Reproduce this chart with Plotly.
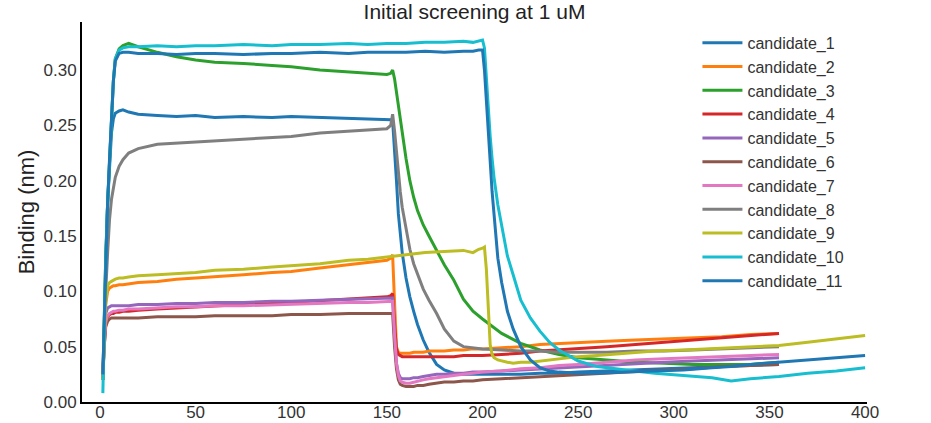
import plotly.graph_objects as go

# ---------------- data ----------------
names = ["candidate_1", "candidate_2", "candidate_3", "candidate_4", "candidate_5",
         "candidate_6", "candidate_7", "candidate_8", "candidate_9", "candidate_10",
         "candidate_11"]
colors = ["#1f77b4", "#ff7f0e", "#2ca02c", "#d62728", "#9467bd", "#8c564b",
          "#e377c2", "#7f7f7f", "#bcbd22", "#17becf", "#1f77b4"]

# group A: association 0-153 s, dissociation to 355 s (candidates 1-8)
time_a = [1.5, 2, 3, 4, 5, 6, 7, 8, 10, 12, 15, 20, 30, 40, 50, 60, 75, 90, 100, 115,
          130, 140, 150, 152, 153, 154, 155, 156, 157, 158, 160, 162, 164, 166, 169,
          172, 176, 180, 185, 190, 195, 200, 210, 220, 230, 240, 250, 265, 280, 295,
          310, 325, 340, 355]

cand_1 = [0.022, 0.06, 0.13, 0.18, 0.215, 0.243, 0.256, 0.261, 0.263, 0.264, 0.262,
          0.260, 0.259, 0.258, 0.259, 0.257, 0.258, 0.257, 0.258, 0.257, 0.256, 0.256,
          0.255, 0.255, 0.254, 0.23, 0.20, 0.17, 0.15, 0.135, 0.112, 0.095, 0.082,
          0.07, 0.056, 0.045, 0.034, 0.029, 0.026, 0.025, 0.025, 0.025, 0.025, 0.025,
          0.026, 0.026, 0.027, 0.028, 0.029, 0.030, 0.031, 0.032, 0.033, 0.034]
cand_2 = [0.02, 0.05, 0.088, 0.100, 0.103, 0.104, 0.105, 0.105, 0.106, 0.106, 0.107,
          0.108, 0.109, 0.111, 0.112, 0.113, 0.115, 0.117, 0.118, 0.121, 0.124, 0.126,
          0.128, 0.130, 0.133, 0.09, 0.05, 0.045, 0.044, 0.044, 0.044, 0.044, 0.045,
          0.045, 0.045, 0.046, 0.046, 0.046, 0.047, 0.047, 0.048, 0.048, 0.049, 0.050,
          0.052, 0.053, 0.054, 0.055, 0.056, 0.057, 0.058, 0.059, 0.061, 0.062]
cand_3 = [0.02, 0.06, 0.13, 0.18, 0.22, 0.26, 0.29, 0.31, 0.319, 0.322, 0.324, 0.321,
          0.316, 0.312, 0.309, 0.307, 0.306, 0.304, 0.303, 0.300, 0.298, 0.297, 0.296,
          0.297, 0.300, 0.292, 0.28, 0.266, 0.253, 0.241, 0.22, 0.20, 0.185, 0.173,
          0.16, 0.15, 0.137, 0.124, 0.11, 0.093, 0.082, 0.075, 0.062, 0.053, 0.047,
          0.043, 0.040, 0.038, 0.036, 0.035, 0.034, 0.034, 0.034, 0.036]
cand_4 = [0.02, 0.045, 0.07, 0.077, 0.079, 0.080, 0.080, 0.081, 0.081, 0.082, 0.082,
          0.083, 0.084, 0.085, 0.086, 0.087, 0.088, 0.089, 0.090, 0.092, 0.093, 0.094,
          0.095, 0.096, 0.098, 0.07, 0.048, 0.043, 0.042, 0.041, 0.041, 0.041, 0.041,
          0.041, 0.041, 0.041, 0.041, 0.041, 0.041, 0.042, 0.042, 0.042, 0.043, 0.044,
          0.046, 0.047, 0.048, 0.050, 0.052, 0.054, 0.056, 0.058, 0.060, 0.062]
cand_5 = [0.02, 0.05, 0.08, 0.085, 0.086, 0.087, 0.087, 0.087, 0.087, 0.087, 0.087,
          0.088, 0.088, 0.089, 0.089, 0.090, 0.090, 0.091, 0.091, 0.092, 0.093, 0.093,
          0.094, 0.094, 0.094, 0.06, 0.035, 0.026, 0.022, 0.021, 0.021, 0.021, 0.022,
          0.022, 0.023, 0.024, 0.025, 0.025, 0.026, 0.026, 0.027, 0.027, 0.028, 0.029,
          0.030, 0.031, 0.032, 0.033, 0.035, 0.036, 0.037, 0.038, 0.039, 0.040]
cand_6 = [0.02, 0.045, 0.068, 0.073, 0.075, 0.076, 0.076, 0.076, 0.076, 0.076, 0.076,
          0.076, 0.077, 0.077, 0.077, 0.078, 0.078, 0.078, 0.079, 0.079, 0.080, 0.080,
          0.080, 0.080, 0.080, 0.05, 0.03, 0.02, 0.016, 0.015, 0.014, 0.014, 0.014,
          0.015, 0.015, 0.016, 0.017, 0.018, 0.018, 0.019, 0.019, 0.020, 0.021, 0.022,
          0.023, 0.024, 0.025, 0.026, 0.028, 0.029, 0.030, 0.032, 0.033, 0.034]
cand_7 = [0.02, 0.05, 0.072, 0.078, 0.080, 0.081, 0.082, 0.082, 0.083, 0.083, 0.084,
          0.084, 0.085, 0.086, 0.086, 0.087, 0.087, 0.088, 0.088, 0.089, 0.090, 0.090,
          0.091, 0.091, 0.091, 0.06, 0.035, 0.024, 0.019, 0.018, 0.017, 0.017, 0.018,
          0.019, 0.020, 0.021, 0.022, 0.023, 0.024, 0.025, 0.026, 0.027, 0.028, 0.030,
          0.031, 0.033, 0.034, 0.036, 0.038, 0.039, 0.040, 0.041, 0.042, 0.043]
cand_8 = [0.02, 0.05, 0.10, 0.135, 0.165, 0.183, 0.195, 0.203, 0.213, 0.219, 0.225,
          0.229, 0.233, 0.234, 0.235, 0.236, 0.237, 0.239, 0.240, 0.243, 0.245, 0.246,
          0.247, 0.250, 0.260, 0.245, 0.225, 0.205, 0.19, 0.176, 0.155, 0.138, 0.125,
          0.115, 0.102, 0.092, 0.08, 0.066, 0.055, 0.050, 0.049, 0.048, 0.047, 0.046,
          0.046, 0.045, 0.045, 0.045, 0.046, 0.046, 0.047, 0.048, 0.049, 0.050]

# group B: association 0-200 s, dissociation to 400 s (candidates 9-11)
time_b = [1.5, 2, 3, 4, 5, 6, 7, 8, 10, 12, 15, 20, 30, 40, 50, 60, 75, 90, 100, 115,
          130, 140, 150, 160, 170, 180, 190, 195, 198, 200, 201, 202, 203, 204, 205,
          206, 208, 210, 213, 216, 220, 225, 230, 235, 240, 250, 260, 275, 290, 305,
          320, 330, 340, 355, 370, 385, 400]

cand_9 = [0.02, 0.05, 0.092, 0.105, 0.108, 0.109, 0.110, 0.111, 0.112, 0.112, 0.113,
          0.114, 0.115, 0.116, 0.117, 0.119, 0.120, 0.122, 0.123, 0.125, 0.128, 0.129,
          0.131, 0.133, 0.135, 0.136, 0.137, 0.135, 0.138, 0.139, 0.140, 0.12, 0.085,
          0.052, 0.043, 0.040, 0.038, 0.037, 0.036, 0.035, 0.036, 0.036, 0.037, 0.038,
          0.039, 0.041, 0.042, 0.044, 0.046, 0.047, 0.048, 0.049, 0.050, 0.051, 0.054,
          0.057, 0.060]
cand_10 = [0.008, 0.05, 0.125, 0.18, 0.22, 0.26, 0.29, 0.31, 0.318, 0.320, 0.321,
           0.321, 0.322, 0.321, 0.322, 0.322, 0.323, 0.322, 0.323, 0.323, 0.324, 0.323,
           0.324, 0.324, 0.325, 0.325, 0.326, 0.325, 0.326, 0.327, 0.32, 0.29, 0.262,
           0.24, 0.22, 0.203, 0.178, 0.16, 0.132, 0.115, 0.092, 0.076, 0.064, 0.054,
           0.047, 0.037, 0.032, 0.029, 0.026, 0.024, 0.022, 0.019, 0.021, 0.023, 0.026,
           0.028, 0.031]
cand_11 = [0.025, 0.06, 0.13, 0.18, 0.22, 0.26, 0.29, 0.308, 0.315, 0.316, 0.316,
           0.315, 0.315, 0.314, 0.315, 0.315, 0.314, 0.315, 0.315, 0.316, 0.315, 0.316,
           0.316, 0.316, 0.317, 0.316, 0.317, 0.317, 0.318, 0.318, 0.30, 0.27, 0.245,
           0.215, 0.19, 0.17, 0.13, 0.108, 0.082, 0.066, 0.050, 0.038, 0.031, 0.028,
           0.027, 0.026, 0.026, 0.027, 0.028, 0.029, 0.031, 0.032, 0.034, 0.036, 0.038,
           0.040, 0.042]

x_ticks = [0, 50, 100, 150, 200, 250, 300, 350, 400]
y_ticks = [0.00, 0.05, 0.10, 0.15, 0.20, 0.25, 0.30]

series = [(time_a, cand_1), (time_a, cand_2), (time_a, cand_3), (time_a, cand_4),
          (time_a, cand_5), (time_a, cand_6), (time_a, cand_7), (time_a, cand_8),
          (time_b, cand_9), (time_b, cand_10), (time_b, cand_11)]

# ---------------- figure ----------------
FONT = "Arial, 'Liberation Sans', sans-serif"
fig = go.Figure()
for name, color, (t, v) in zip(names, colors, series):
    fig.add_trace(go.Scatter(x=t, y=v, mode="lines", name=name,
                             line=dict(color=color, width=3)))

fig.update_layout(
    width=931, height=423,
    margin=dict(l=82, r=64, t=22, b=21, autoexpand=False),
    paper_bgcolor="white", plot_bgcolor="white",
    font=dict(family=FONT, color="#333333"),
    title=dict(text="Initial screening at 1 uM", x=0.5, xref="paper",
               y=1 - 12 / 423, yref="container", yanchor="middle", xanchor="center",
               font=dict(size=21, color="#222222", family=FONT)),
    legend=dict(x=0.784, y=0.99, xanchor="left", yanchor="top",
                font=dict(size=16, color="#333333", family=FONT),
                itemwidth=40, bgcolor="rgba(0,0,0,0)", tracegroupgap=0),
    showlegend=True,
)
fig.update_xaxes(range=[-9.4, 401.0], tickvals=x_ticks, ticktext=[str(v) for v in x_ticks],
                 showgrid=False, zeroline=False, showline=True, linecolor="black",
                 linewidth=2, ticks="", automargin=False, ticklabelstandoff=-6,
                 tickfont=dict(size=17, family=FONT, color="#333333"))
fig.update_yaxes(range=[0.0, 0.3434], tickvals=y_ticks, ticktext=[f"{v:.2f}" for v in y_ticks],
                 showgrid=False, zeroline=False, showline=True, linecolor="black",
                 linewidth=2, ticks="", ticklabelstandoff=0, automargin=False,
                 tickfont=dict(size=17, family=FONT, color="#333333"),
                 title=dict(text="Binding (nm)", standoff=3,
                            font=dict(size=22, family=FONT, color="#222222")))

fig.write_html("out.html")
